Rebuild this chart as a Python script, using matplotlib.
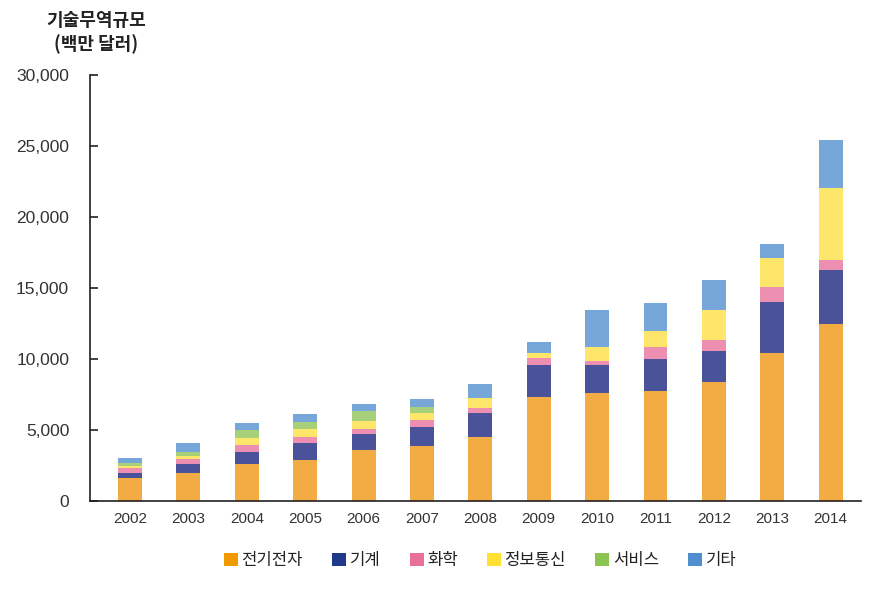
import numpy as np
import matplotlib
matplotlib.use("Agg")
import matplotlib.pyplot as plt
from matplotlib.patches import Patch

plt.rcParams['font.family'] = ['Noto Sans CJK KR', 'DejaVu Sans']

years = ['2002', '2003', '2004', '2005', '2006', '2007', '2008',
         '2009', '2010', '2011', '2012', '2013', '2014']

# 백만 달러
elec = [1600, 1970, 2600, 2890, 3590, 3870, 4500, 7320, 7600, 7750, 8380, 10420, 12460]
mach = [380, 630, 850, 1200, 1130, 1340, 1690, 2250, 1970, 2250, 2180, 3590, 3800]
chem = [350, 350, 490, 420, 350, 490, 350, 490, 280, 850, 780, 1060, 700]
info = [150, 210, 490, 560, 560, 490, 700, 350, 990, 1120, 2110, 2040, 5070]
serv = [190, 280, 560, 520, 700, 420, 0, 0, 0, 0, 0, 0, 0]
etc = [350, 630, 490, 540, 490, 560, 990, 780, 2600, 1970, 2110, 990, 3380]

series = [elec, mach, chem, info, serv, etc]
names = ['전기전자', '기계', '화학', '정보통신', '서비스', '기타']
bar_colors = ['#F3AC44', '#4A5399', '#EC8FB0', '#FEE66A', '#A7D07A', '#77A7D9']
legend_colors = ['#F09A00', '#1F3A8A', '#E8709A', '#FFE033', '#8CC452', '#4F8FD0']

fig = plt.figure(figsize=(8.81, 5.99), dpi=100)
ax = fig.add_axes([0.1022, 0.1636, 0.8751, 0.7112])

x = np.arange(len(years))
bottom = np.zeros(len(years))
for vals, col in zip(series, bar_colors):
    ax.bar(x, vals, width=0.41, bottom=bottom, color=col, linewidth=0)
    bottom += np.array(vals)

ax.set_xlim(-0.685, 12.52)
ax.set_ylim(0, 30000)
ax.set_yticks(np.arange(0, 30001, 5000))
ax.set_yticklabels(['{:,}'.format(v) for v in range(0, 30001, 5000)],
                   family='Liberation Sans', fontsize=12.5, color='#333333')
ax.set_xticks(x)
ax.set_xticklabels(years, family='Liberation Sans', fontsize=11, color='#333333')

ax.spines['top'].set_visible(False)
ax.spines['right'].set_visible(False)
for s in ['left', 'bottom']:
    ax.spines[s].set_color('#231F20')
    ax.spines[s].set_linewidth(1.2)
ax.tick_params(axis='y', direction='in', length=6, width=1.2, color='#231F20', pad=15)
ax.tick_params(axis='x', length=0, pad=8)

fig.text(0.109, 0.965, '기술무역규모', ha='center', va='center',
         fontsize=13, fontweight='bold', color='#222222')
fig.text(0.109, 0.927, '(백만 달러)', ha='center', va='center',
         fontsize=13, fontweight='bold', color='#222222')

handles = [Patch(facecolor=c, edgecolor='none') for c in legend_colors]
fig.legend(handles, names, loc='center', bbox_to_anchor=(0.545, 0.064), ncol=6,
           frameon=False, fontsize=12, handlelength=0.85, handleheight=0.85,
           handletextpad=0.2, columnspacing=1.75, labelcolor='#222222')

fig.savefig('out.png', dpi=100)
